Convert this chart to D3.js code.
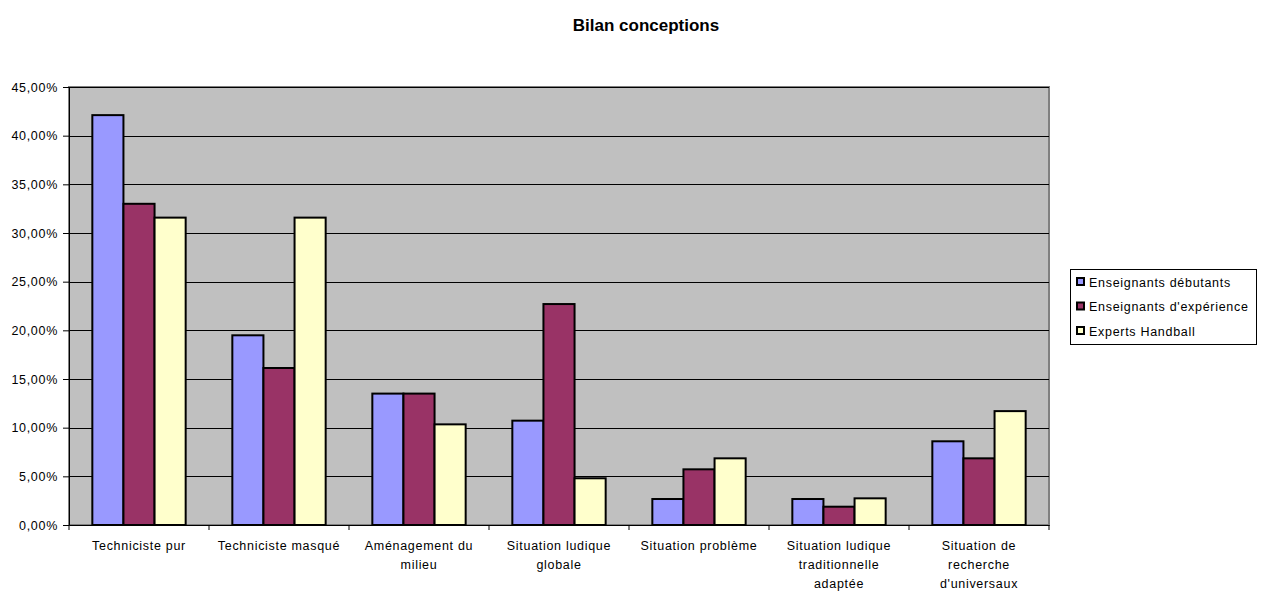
<!DOCTYPE html>
<html><head><meta charset="utf-8">
<script src="https://cdn.jsdelivr.net/npm/d3@7"></script>
<style>body{margin:0;background:#fff;}svg{display:block;font-family:"Liberation Sans",Arial,sans-serif;}</style>
</head><body>
<svg id="c" width="1261" height="592"></svg>
<script>
const categories = [
  ["Techniciste pur"],
  ["Techniciste masqué"],
  ["Aménagement du", "milieu"],
  ["Situation ludique", "globale"],
  ["Situation problème"],
  ["Situation ludique", "traditionnelle", "adaptée"],
  ["Situation de", "recherche", "d'universaux"]
];
const seriesNames = ["Enseignants débutants", "Enseignants d'expérience", "Experts Handball"];
const debutants  = [0.4211, 0.1949, 0.1350, 0.1072, 0.0267, 0.0267, 0.0860];
const experience = [0.3300, 0.1613, 0.1350, 0.2270, 0.0572, 0.0188, 0.0685];
const experts    = [0.3158, 0.3158, 0.1034, 0.0480, 0.0685, 0.0274, 0.1170];
const yTicks = [0, 0.05, 0.10, 0.15, 0.20, 0.25, 0.30, 0.35, 0.40, 0.45];
const colors = ["#9999FF", "#993366", "#FFFFCC"];

const series = [debutants, experience, experts];
const svg = d3.select("#c");
const L = 69, R = 1049, T = 87, B = 525;
const FS = 12.5, LS = 0.7;

const x = d3.scaleBand().domain(d3.range(categories.length)).range([L, R]).paddingInner(0).paddingOuter(0);
const groupInner = 3 / 4.5; // gap width 150%
const xs = d3.scaleBand().domain(d3.range(3)).range([0, x.bandwidth() * groupInner]);
const y = d3.scaleLinear().domain([0, 0.45]).range([B, T]);

// title
svg.append("text").attr("x", 646).attr("y", 31).attr("text-anchor", "middle")
  .attr("font-weight", "bold").attr("font-size", 17).text("Bilan conceptions");

// plot area
svg.append("rect").attr("x", L).attr("y", T).attr("width", R - L).attr("height", B - T)
  .attr("fill", "#C0C0C0").attr("stroke", "#808080").attr("stroke-width", 2);

// gridlines
svg.append("g").selectAll("line").data(yTicks.slice(1)).join("line")
  .attr("x1", L).attr("x2", R).attr("y1", d => Math.round(y(d)) + 0.5).attr("y2", d => Math.round(y(d)) + 0.5)
  .attr("stroke", "#000").attr("stroke-width", 1);

// bars
const off = x.bandwidth() * (1 - groupInner) / 2;
series.forEach((vals, si) => {
  svg.append("g").selectAll("rect").data(vals).join("rect")
    .attr("x", (d, i) => x(i) + off + xs(si))
    .attr("y", d => y(d))
    .attr("width", xs.bandwidth())
    .attr("height", d => B - y(d))
    .attr("fill", colors[si]).attr("stroke", "#000").attr("stroke-width", 2);
});

// y axis
const yAxis = d3.axisLeft(y).tickValues(yTicks).tickSize(6).tickSizeOuter(0)
  .tickFormat(d => (d * 100).toFixed(2).replace(".", ",") + "%");
const ga = svg.append("g").attr("transform", `translate(${L},0)`).call(yAxis);
ga.select(".domain").attr("stroke", "#000");
ga.selectAll(".tick line").attr("stroke", "#000");
ga.selectAll(".tick text").attr("font-size", FS).attr("letter-spacing", LS)
  .attr("font-family", "Liberation Sans, Arial, sans-serif").attr("fill", "#000").attr("x", -11);

// x axis
const xAxis = d3.axisBottom(x).tickSize(0).tickFormat("");
const gx = svg.append("g").attr("transform", `translate(0,${B})`).call(xAxis);
gx.select(".domain").attr("stroke", "#000");
gx.selectAll(".bt").data(d3.range(categories.length + 1)).join("line")
  .attr("x1", i => L + i * x.bandwidth()).attr("x2", i => L + i * x.bandwidth())
  .attr("y1", 0).attr("y2", 5).attr("stroke", "#000");

// x labels
const lbl = svg.append("g");
categories.forEach((lines, i) => {
  const t = lbl.append("text").attr("text-anchor", "middle").attr("font-size", FS)
    .attr("letter-spacing", LS).attr("fill", "#000");
  lines.forEach((ln, j) => {
    t.append("tspan").attr("x", x(i) + x.bandwidth() / 2).attr("y", 550 + j * 19).text(ln);
  });
});

// legend
const lg = svg.append("g");
lg.append("rect").attr("x", 1070.5).attr("y", 269.5).attr("width", 186).attr("height", 75)
  .attr("fill", "#fff").attr("stroke", "#000");
seriesNames.forEach((n, i) => {
  const yy = 282 + i * 24.5;
  lg.append("rect").attr("x", 1077).attr("y", yy - 4).attr("width", 7).attr("height", 7)
    .attr("fill", colors[i]).attr("stroke", "#000").attr("stroke-width", 2);
  lg.append("text").attr("x", 1089).attr("y", yy + 4.5).attr("font-size", FS)
    .attr("letter-spacing", LS).text(n);
});
</script>
</body></html>
